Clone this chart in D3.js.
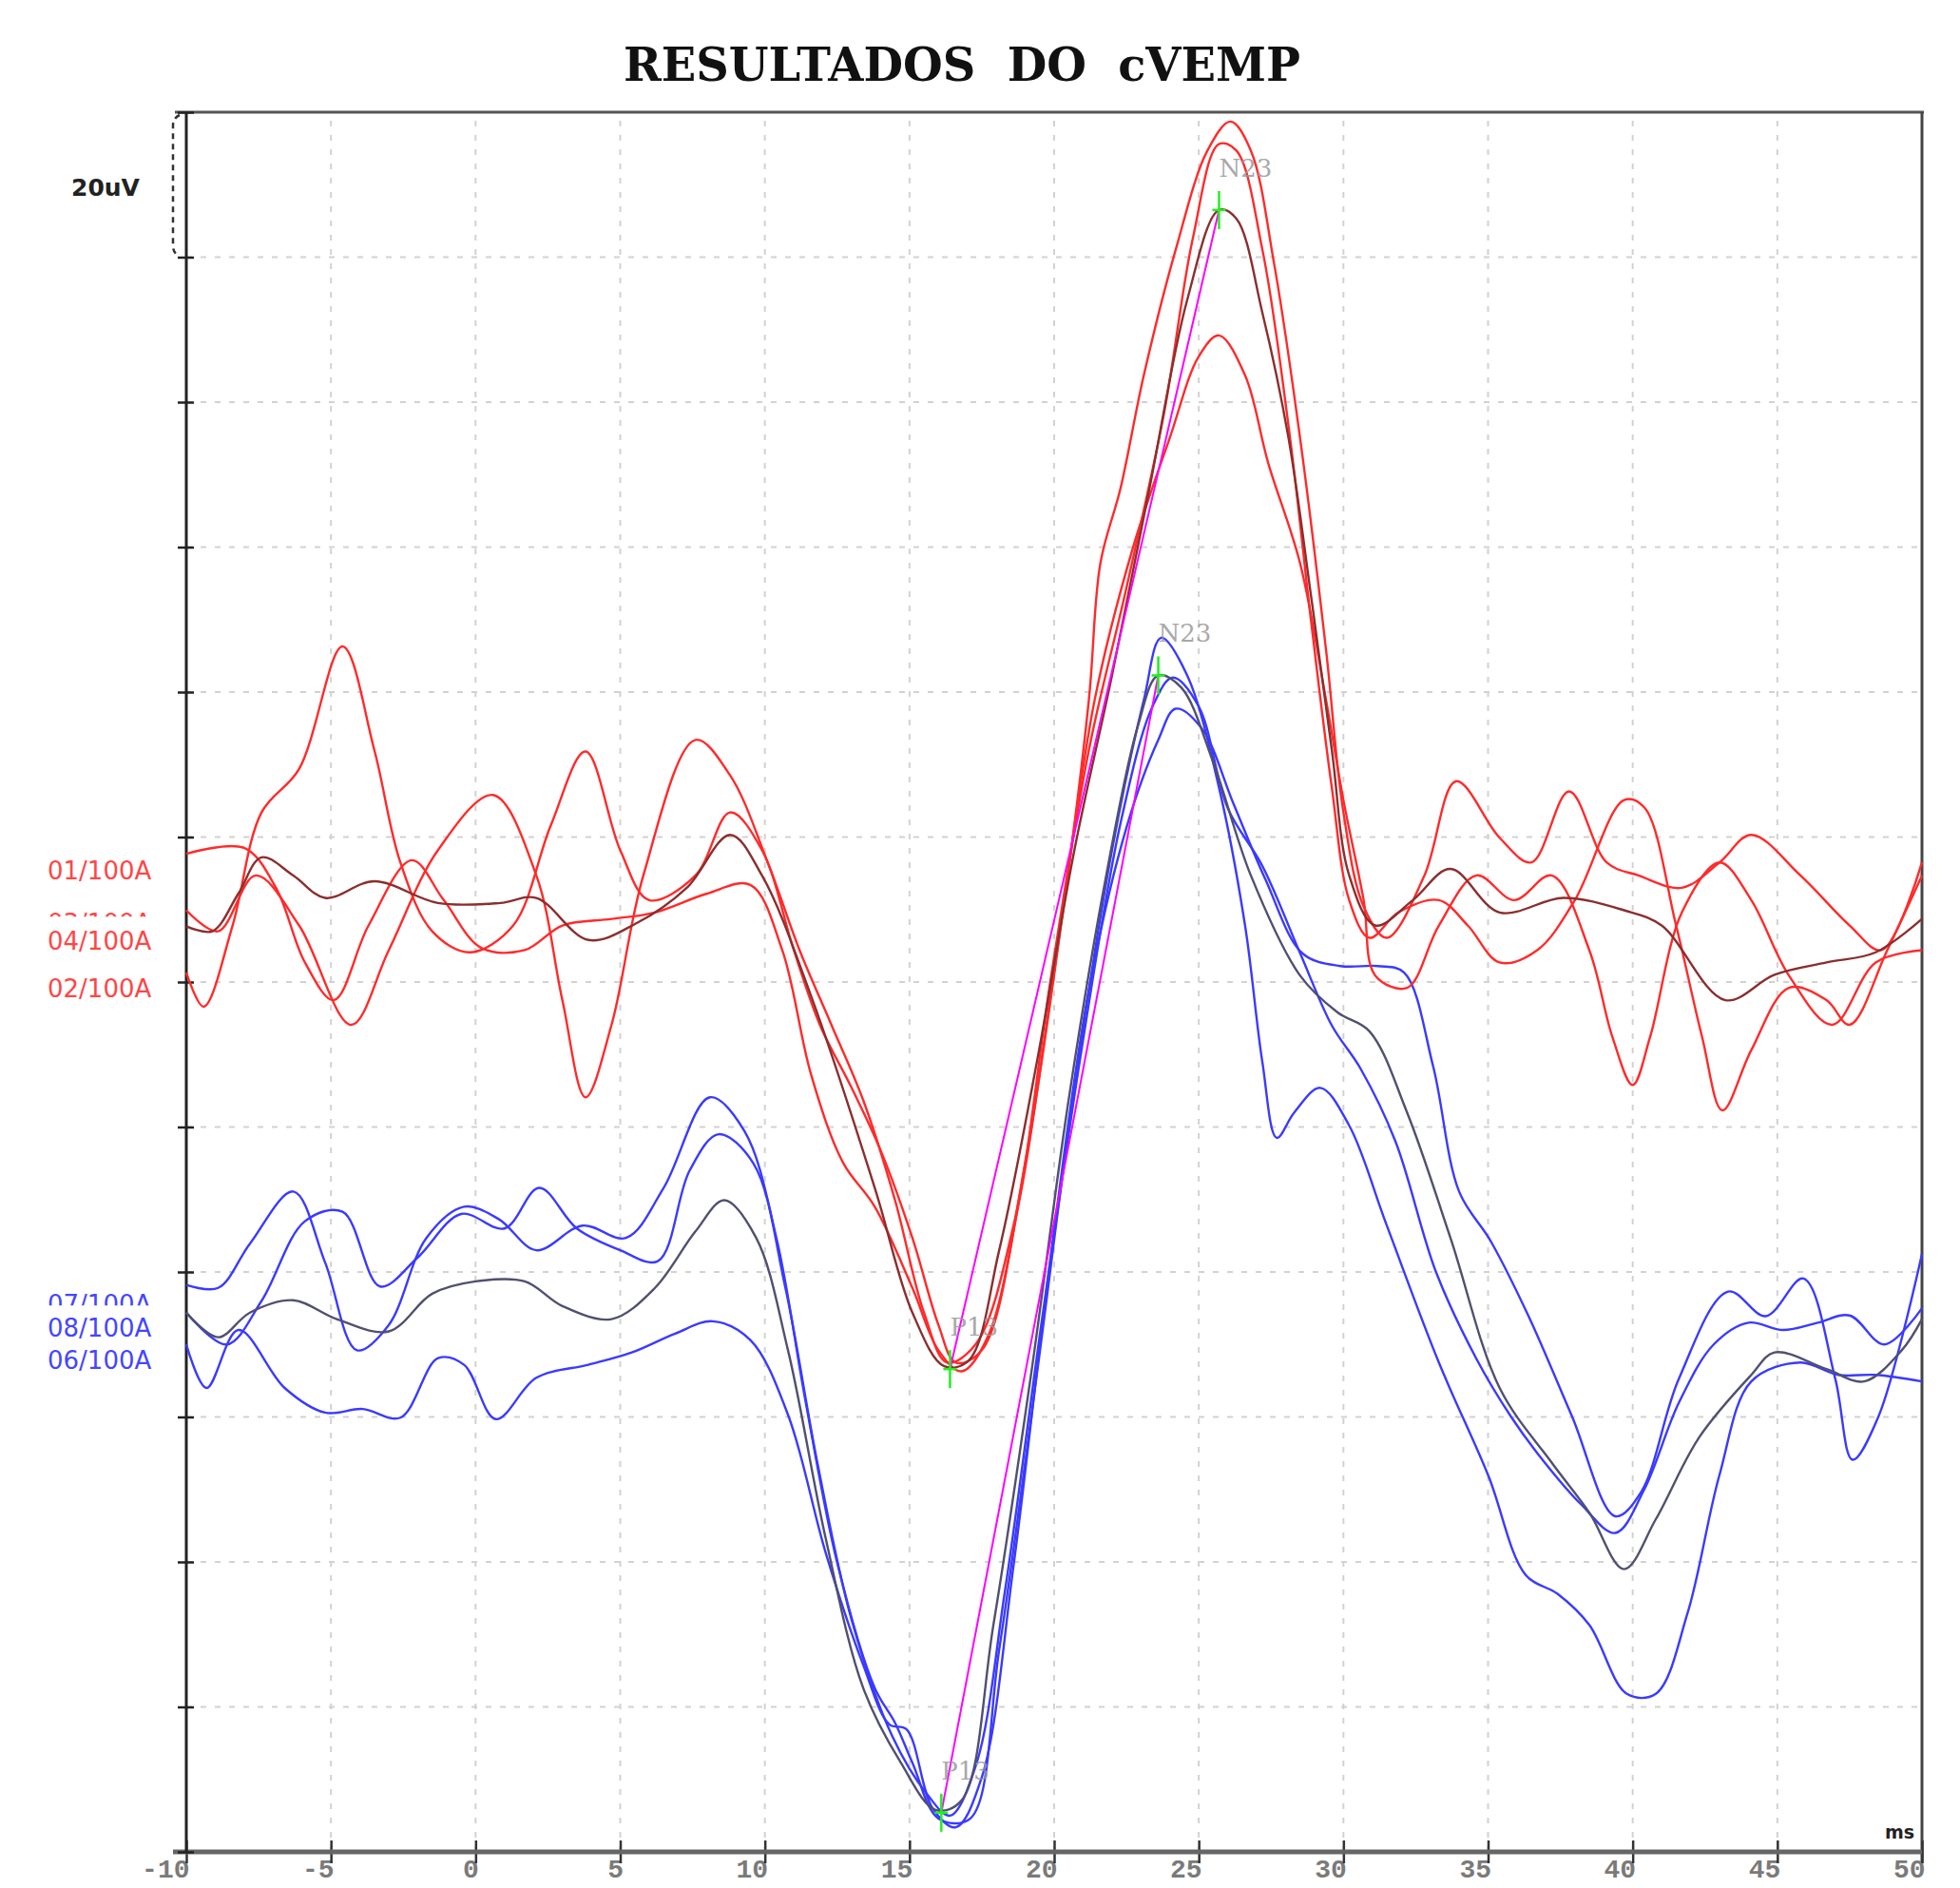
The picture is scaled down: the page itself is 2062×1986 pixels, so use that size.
<!DOCTYPE html>
<html><head><meta charset="utf-8">
<script src="https://cdn.jsdelivr.net/npm/d3@7"></script>
<style>body{margin:0;background:#fff}svg{display:block}</style>
</head><body><svg id="c" width="2062" height="1986"></svg>
<script>
const title = "RESULTADOS  DO  cVEMP";
const xTicks = [-10,-5,0,5,10,15,20,25,30,35,40,45,50];
const yGridValues = [-120,-100,-80,-60,-40,-20,0,20,40,60,80,100,120];
const redLabels = ["01/100A","03/100A","04/100A","02/100A"];
const redLabelLevels = [15.3, 8.1, 5.7, -0.9];
const blueLabels = ["07/100A","08/100A","06/100A"];
const blueLabelLevels = [-44.5, -47.7, -52.2];
const scaleLabel = "20uV";

// traces: [ms, uV]
const redAvg = [[-10,7.7],[-9.1,7.0],[-8.2,12.2],[-7.4,17.2],[-6.3,14.7],[-5.2,11.6],[-3.5,13.9],[-1.3,10.9],[0.85,10.9],[2.1,11.6],[3.9,5.8],[5.6,8.2],[7.3,13.0],[8.8,20.3],[9.9,14.7],[11.65,-2.5],[13.8,-28.4],[15.1,-45.6],[16.2,-53.0],[17.05,-52.2],[18.1,-37.0],[19.4,-11.1],[20.7,18.2],[22.0,42.3],[23.3,68.2],[24.6,94.1],[25.7,106.5],[26.3,105.3],[27.2,92.3],[28.1,75.1],[28.9,52.7],[29.6,32.0],[30.2,14.7],[31.1,7.8],[32.4,11.3],[33.7,15.6],[35.4,9.6],[37.6,11.6],[39.7,9.9],[41.0,7.8],[43.2,-2.5],[44.9,1.0],[46.7,2.7],[48.4,4.1],[50,8.7]];
const red01 = [[-10,17.7],[-8.0,18.5],[-6.9,13.0],[-5.9,2.7],[-4.9,-2.5],[-3.7,7.8],[-2.2,16.8],[-1.1,11.3],[0.2,4.7],[1.7,4.4],[3.0,7.8],[4.7,8.7],[6.2,9.6],[8.0,12.2],[9.5,13.4],[10.6,4.4],[11.6,-12.8],[12.7,-24.9],[13.8,-31.0],[15.1,-42.2],[16.0,-50.8],[16.8,-53.7],[17.7,-49.0],[19.0,-24.9],[20.3,9.6],[21.2,38.9],[21.6,57.8],[22.3,68.2],[23.1,83.7],[24.2,101.0],[25.3,114.7],[26.1,118.7],[26.8,114.7],[27.6,99.2],[28.5,75.1],[29.4,45.8],[30.0,23.4],[30.7,10.4],[31.5,6.1],[32.8,14.7],[33.9,27.7],[35.4,19.9],[36.5,16.5],[37.8,26.3],[39.1,16.5],[40.2,14.7],[41.7,13.0],[43.0,16.5],[44.1,20.3],[45.8,14.7],[47.5,7.8],[48.6,4.4],[50,16.5]];
const red04 = [[-10,9.9],[-8.9,7.0],[-7.6,14.7],[-6.1,7.8],[-4.3,-5.9],[-3.0,4.4],[-1.3,18.2],[0.6,25.8],[2.1,14.7],[3.0,-2.5],[3.8,-15.9],[4.7,-5.9],[5.8,14.7],[7.6,33.4],[8.8,28.5],[10.1,16.5],[11.2,4.4],[12.3,-5.9],[13.4,-16.3],[14.5,-30.1],[15.5,-45.6],[16.3,-52.5],[17.3,-49.9],[18.6,-33.5],[19.9,0.9],[21.2,32.0],[22.5,54.4],[23.8,78.5],[24.8,102.7],[25.7,115.6],[26.3,114.7],[27.2,101.0],[28.1,76.8],[28.9,49.2],[29.6,26.8],[30.2,11.3],[30.9,6.1],[31.9,9.6],[33.3,11.3],[34.3,7.8],[35.4,2.7],[36.7,4.4],[38.0,11.3],[39.7,25.1],[40.4,24.1],[41.5,7.8],[42.4,-7.6],[43.1,-17.7],[44.1,-9.4],[45.4,-0.8],[46.7,-2.5],[47.5,-5.9],[48.8,4.4],[50,14.7]];
const red02 = [[-10,1.3],[-9.4,-3.4],[-8.4,7.8],[-7.4,23.4],[-6.1,29.4],[-4.6,46.3],[-3.5,32.0],[-2.6,16.5],[-1.5,7.0],[-0.2,4.1],[1.3,7.8],[2.6,21.6],[3.8,31.8],[5.0,18.2],[6.0,11.3],[7.6,14.7],[8.8,23.4],[9.9,18.2],[11.0,4.4],[11.9,-5.9],[13.0,-14.6],[14.0,-23.2],[15.1,-35.3],[16.0,-47.3],[16.6,-52.5],[17.5,-50.8],[18.8,-30.1],[20.1,4.4],[21.4,38.9],[22.7,59.6],[24.0,75.1],[25.0,86.3],[25.7,89.2],[26.6,83.7],[27.4,71.6],[28.5,57.8],[29.4,38.9],[30.0,25.1],[30.7,11.3],[31.1,0.9],[32.2,-0.8],[33.3,7.8],[34.6,14.7],[35.9,11.3],[37.2,14.7],[38.5,4.4],[39.3,-7.6],[40.0,-14.2],[40.6,-7.6],[41.7,9.6],[43.0,16.5],[44.1,11.3],[45.4,0.9],[46.9,-5.9],[48.4,2.7],[50,4.4]];

const blueAvg = [[-10,-45.6],[-8.9,-49.0],[-7.8,-45.6],[-6.3,-43.9],[-4.8,-46.5],[-3.0,-48.2],[-1.5,-43.0],[0.0,-41.3],[1.7,-41.3],[3.0,-44.7],[4.7,-46.5],[6.2,-42.2],[7.6,-34.4],[8.6,-30.1],[9.7,-35.3],[10.8,-50.8],[12.1,-76.7],[13.4,-97.4],[14.7,-107.7],[15.9,-114.2],[16.8,-112.9],[17.9,-88.7],[19.2,-54.2],[20.5,-16.3],[21.8,14.7],[22.9,35.4],[23.6,42.3],[24.4,40.6],[25.5,30.3],[26.8,14.7],[28.5,0.9],[29.8,-4.2],[30.9,-6.8],[32.2,-18.0],[33.7,-35.3],[35.4,-56.0],[37.2,-66.3],[38.5,-73.2],[39.7,-81.0],[40.8,-74.1],[42.3,-62.8],[44.1,-54.2],[44.9,-51.1],[46.7,-53.4],[48.0,-55.1],[49.3,-50.8],[50,-46.5]];
const blue07 = [[-10,-41.8],[-8.9,-42.2],[-7.8,-36.1],[-6.3,-28.9],[-5.2,-38.7],[-4.1,-50.8],[-3.0,-47.3],[-1.7,-35.3],[-0.4,-31.0],[0.8,-32.7],[2.1,-37.0],[3.7,-33.6],[5.2,-35.3],[6.5,-28.4],[8.1,-15.9],[9.3,-20.6],[10.4,-35.3],[11.4,-57.7],[12.5,-80.1],[13.8,-97.4],[14.5,-102.2],[15.1,-107.7],[16.0,-115.4],[17.1,-115.4],[18.1,-92.1],[19.4,-54.2],[20.7,-14.6],[22.0,18.2],[23.1,38.9],[23.7,47.5],[24.6,42.3],[25.7,26.8],[26.6,7.8],[27.2,-11.1],[27.7,-21.5],[28.3,-18.0],[29.2,-14.6],[30.2,-19.8],[31.5,-33.6],[33.3,-52.5],[35.0,-68.0],[36.3,-81.8],[37.4,-84.4],[38.5,-88.7],[39.8,-98.2],[40.8,-98.2],[41.9,-87.0],[43.0,-68.0],[44.1,-55.1],[45.8,-52.5],[47.1,-54.2],[48.4,-54.2],[50,-55.1]];
const blue06 = [[-10,-50.0],[-9.3,-56.0],[-8.2,-48.0],[-6.6,-56.0],[-5.2,-59.4],[-3.9,-58.9],[-2.6,-60.1],[-1.3,-51.9],[-0.4,-52.8],[0.7,-60.3],[2.1,-54.6],[3.9,-52.8],[5.4,-51.1],[6.9,-48.5],[8.2,-46.8],[9.5,-49.4],[10.8,-59.7],[12.1,-78.7],[13.4,-94.2],[14.3,-102.4],[14.9,-103.1],[15.8,-114.0],[16.6,-116.6],[17.5,-109.7],[18.6,-80.4],[19.9,-37.3],[21.2,-1.1],[22.5,21.3],[23.6,33.4],[24.2,37.7],[25.1,35.0],[26.2,24.6],[27.3,14.2],[28.6,3.9],[29.9,2.2],[31.2,2.2],[32.1,1.3],[33.1,-11.6],[34.0,-28.9],[35.1,-35.8],[36.4,-46.1],[37.9,-59.9],[39.4,-73.7],[40.3,-70.3],[41.6,-54.7],[43.3,-42.7],[44.6,-46.1],[45.9,-40.9],[47.0,-54.7],[47.6,-65.9],[48.5,-59.9],[50,-37.5]];
const blue08 = [[-10,-45.6],[-8.6,-50.0],[-7.4,-44.0],[-5.9,-33.0],[-4.6,-31.7],[-3.3,-42.0],[-2.0,-38.0],[-0.5,-32.0],[1.0,-34.0],[2.2,-28.4],[3.5,-34.0],[5.0,-37.0],[6.3,-38.5],[7.4,-26.0],[8.4,-21.0],[9.6,-25.0],[10.7,-42.0],[11.8,-66.0],[13.0,-88.0],[14.4,-104.0],[15.6,-112.0],[16.4,-115.0],[17.3,-108.0],[18.3,-84.0],[19.6,-46.0],[21.0,-8.0],[22.3,22.0],[23.4,38.0],[24.1,42.0],[25.0,38.0],[26.0,24.0],[27.2,16.0],[28.5,4.0],[29.6,-6.0],[30.6,-12.0],[31.8,-22.0],[33.2,-40.0],[34.6,-52.0],[35.8,-60.0],[36.9,-66.0],[38.2,-72.0],[39.4,-76.0],[40.4,-70.0],[41.6,-58.0],[42.8,-50.0],[44.0,-47.0],[45.2,-48.0],[46.4,-47.0],[47.5,-46.0],[48.7,-50.0],[50,-45.0]];

const markersRed = [{name:"N23", t:25.7, v:106.5},{name:"P13", t:16.4, v:-53.4}];
const markersBlue = [{name:"N23", t:23.6, v:42.3},{name:"P13", t:16.1, v:-114.6}];

const svg = d3.select("#c");
const x = d3.scaleLinear().domain([-10,50]).range([196,2022]);
const y = d3.scaleLinear().domain([-120,120]).range([1948,118]);

// title
svg.append("text").attr("x",1012).attr("y",85).attr("text-anchor","middle")
  .attr("font-family","'DejaVu Serif', serif").attr("font-weight","bold")
  .attr("font-size",49).attr("fill","#111").attr("textLength",712).attr("lengthAdjust","spacingAndGlyphs")
  .style("white-space","pre").text(title);

// grid
const g = svg.append("g");
g.selectAll(".hg").data(yGridValues.slice(1,-1)).join("line")
  .attr("x1",x(-10)).attr("x2",x(50)).attr("y1",d=>y(d)).attr("y2",d=>y(d))
  .attr("stroke","#d2d2d2").attr("stroke-width",2).attr("stroke-dasharray","6,9");
g.selectAll(".vg").data(xTicks.slice(1,-1)).join("line")
  .attr("y1",y(-120)).attr("y2",y(120)).attr("x1",d=>x(d)).attr("x2",d=>x(d))
  .attr("stroke","#d2d2d2").attr("stroke-width",2).attr("stroke-dasharray","6,9");

// frame
svg.append("line").attr("x1",x(-10)-12).attr("x2",x(50)+2).attr("y1",y(120)).attr("y2",y(120)).attr("stroke","#555").attr("stroke-width",3);
svg.append("line").attr("x1",x(50)).attr("x2",x(50)).attr("y1",y(120)).attr("y2",y(-120)+12).attr("stroke","#444").attr("stroke-width",3);

// x axis
const xAxis = d3.axisBottom(x).tickValues(xTicks).tickSize(0).tickFormat(d=>d);
const xa = svg.append("g").attr("transform",`translate(0,${y(-120)})`).call(xAxis);
xa.select(".domain").remove();
svg.append("line").attr("x1",x(-10)-14).attr("x2",x(50)).attr("y1",y(-120)).attr("y2",y(-120)).attr("stroke","#666").attr("stroke-width",5);
xa.selectAll(".tick line").remove();
xa.selectAll(".tick").append("line").attr("x1",0).attr("x2",0).attr("y1",-12).attr("y2",12).attr("stroke","#333").attr("stroke-width",2.5);
xa.selectAll(".tick text").attr("x",3).attr("y",7).attr("dy","0.7em").attr("text-anchor","end")
  .attr("font-family","'Liberation Mono', monospace").attr("font-weight","bold").attr("font-size",28).attr("fill","#7a7a7a");

// y axis
const yAxis = d3.axisLeft(y).tickValues(yGridValues).tickSize(0).tickFormat("");
const ya = svg.append("g").attr("transform",`translate(${x(-10)},0)`).call(yAxis);
ya.select(".domain").remove();
svg.append("line").attr("x1",x(-10)).attr("x2",x(-10)).attr("y1",y(120)).attr("y2",y(-120)).attr("stroke","#222").attr("stroke-width",3);
ya.selectAll(".tick").append("line").attr("x1",-9).attr("x2",8).attr("y1",0).attr("y2",0).attr("stroke","#222").attr("stroke-width",2.5);

// ms
svg.append("text").attr("x",x(50)-8).attr("y",y(-120)-14).attr("text-anchor","end")
  .attr("font-family","'DejaVu Sans', sans-serif").attr("font-weight","bold").attr("font-size",19).attr("fill","#222").text("ms");

// 20uV bracket
const bx = x(-10)-14;
svg.append("path").attr("d",`M${bx+7},${y(120)+3} Q${bx},${y(120)+6} ${bx},${y(120)+14} L${bx},${y(100)-12} Q${bx},${y(100)-4} ${bx+7},${y(100)-1}`)
  .attr("fill","none").attr("stroke","#333").attr("stroke-width",2.5).attr("stroke-dasharray","6,5");
svg.append("text").attr("x",75).attr("y",y(110)+12).attr("font-family","'DejaVu Sans', sans-serif").attr("font-weight","bold")
  .attr("font-size",25).attr("fill","#222").text(scaleLabel);

// labels (some partly hidden, as in the source)
const lf = "'DejaVu Sans', sans-serif";
const defs = svg.append("defs");
defs.append("clipPath").attr("id","clip03").append("rect").attr("x",0).attr("y",0).attr("width",200).attr("height",y(redLabelLevels[1])-7);
defs.append("clipPath").attr("id","clip07").append("rect").attr("x",0).attr("y",0).attr("width",200).attr("height",y(blueLabelLevels[0])+1);
svg.selectAll(".rl").data(redLabels).join("text").attr("x",50).attr("y",(d,i)=>y(redLabelLevels[i])+9)
  .attr("clip-path",(d,i)=>i===1?"url(#clip03)":null)
  .attr("font-family",lf).attr("font-size",26).attr("fill","#ff4545").text(d=>d);
svg.selectAll(".bl").data(blueLabels).join("text").attr("x",50).attr("y",(d,i)=>y(blueLabelLevels[i])+9)
  .attr("clip-path",(d,i)=>i===0?"url(#clip07)":null)
  .attr("font-family",lf).attr("font-size",26).attr("fill","#4545ff").text(d=>d);

// traces
const line = d3.line().x(d=>x(d[0])).y(d=>y(d[1])).curve(d3.curveCatmullRom.alpha(0.5));
const traces = [
  {d:blue06,c:"#3a3aff"},{d:blue08,c:"#3a3aff"},{d:blue07,c:"#3a3aff"},{d:blueAvg,c:"#505070"},
  {d:red02,c:"#ff2a2a"},{d:red04,c:"#ff2a2a"},{d:red01,c:"#ff2a2a"},{d:redAvg,c:"#8b2e2e"}
];
svg.append("g").selectAll("path").data(traces).join("path")
  .attr("d",t=>line(t.d)).attr("fill","none").attr("stroke",t=>t.c).attr("stroke-width",2.4);

// magenta lines P13 -> N23
[markersRed, markersBlue].forEach(m=>{
  svg.append("line").attr("x1",x(m[1].t)).attr("y1",y(m[1].v)).attr("x2",x(m[0].t)).attr("y2",y(m[0].v))
    .attr("stroke","#ff00ff").attr("stroke-width",2);
});
// markers
[...markersRed, ...markersBlue].forEach(m=>{
  svg.append("line").attr("x1",x(m.t)).attr("x2",x(m.t)).attr("y1",y(m.v)-20).attr("y2",y(m.v)+20).attr("stroke","#22ee22").attr("stroke-width",2.5);
  svg.append("line").attr("x1",x(m.t)-7).attr("x2",x(m.t)+7).attr("y1",y(m.v)).attr("y2",y(m.v)).attr("stroke","#22ee22").attr("stroke-width",2.5);
  svg.append("text").attr("x",x(m.t)).attr("y",y(m.v)-35).attr("font-family","'DejaVu Serif', serif")
    .attr("font-size",26).attr("fill","#999").attr("opacity",0.85).text(m.name);
});
</script></body></html>
